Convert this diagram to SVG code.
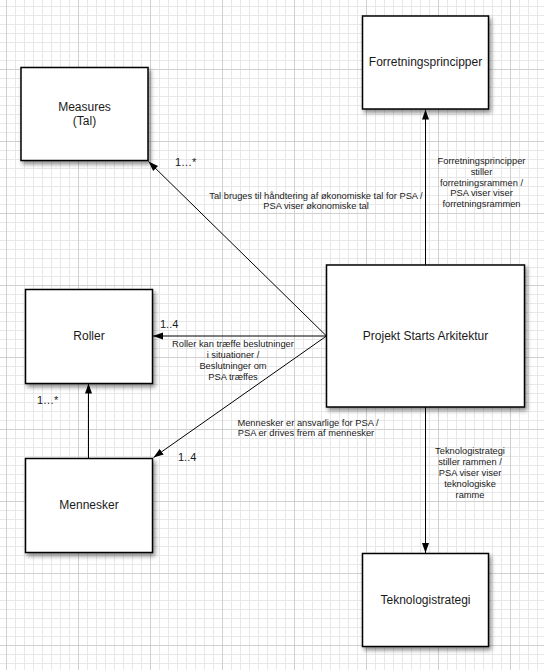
<svg xmlns="http://www.w3.org/2000/svg" width="544" height="670" viewBox="0 0 544 670">
<defs>
<pattern id="grid" x="6" y="-3" width="72" height="72" patternUnits="userSpaceOnUse">
<path d="M9.5 0V72M18.5 0V72M27.5 0V72M36.5 0V72M45.5 0V72M54.5 0V72M63.5 0V72M0 9.5H72M0 18.5H72M0 27.5H72M0 36.5H72M0 45.5H72M0 54.5H72M0 63.5H72" stroke="#e8e8e8" stroke-width="1" fill="none"/>
<path d="M0.5 0V72M0 0.5H72" stroke="#d0d0d0" stroke-width="1" fill="none"/>
</pattern>
<filter id="sh" x="-10%" y="-10%" width="130%" height="130%">
<feDropShadow dx="2" dy="3" stdDeviation="2" flood-color="#000" flood-opacity="0.45"/>
</filter>
<marker id="arr" markerWidth="10" markerHeight="8" refX="10" refY="4" orient="auto" markerUnits="userSpaceOnUse">
<path d="M0,0.5 L10,4 L0,7.5 z" fill="#000"/>
</marker>
<style>
.box{fill:#fff;stroke:#000;stroke-width:1.5;filter:url(#sh)}
.t{font-family:"Liberation Sans",Arial,sans-serif;font-size:12px;fill:#1a1a1a;text-anchor:middle}
.l{font-family:"Liberation Sans",Arial,sans-serif;font-size:9.3px;fill:#1a1a1a;text-anchor:middle}
.m{font-family:"Liberation Sans",Arial,sans-serif;font-size:11px;fill:#1a1a1a}
.c{stroke:#000;stroke-width:1;fill:none;marker-end:url(#arr)}
</style>
</defs>
<rect width="544" height="670" fill="#fff"/>
<rect width="544" height="670" fill="url(#grid)"/>

<g id="connectors">
<line class="c" x1="326.5" y1="336" x2="148.5" y2="161.5"/>
<line class="c" x1="326.5" y1="336" x2="153" y2="336"/>
<line class="c" x1="326.5" y1="336" x2="153.5" y2="457.5"/>
<line class="c" x1="88.5" y1="458" x2="88.5" y2="383.5"/>
<line class="c" x1="425.5" y1="265" x2="425.5" y2="109.5"/>
<line class="c" x1="425.5" y1="407" x2="425.5" y2="553"/>
<text class="m" x="175" y="166">1…*</text>
<text class="l" x="316" y="198.5">Tal bruges til håndtering af økonomiske tal for PSA /</text>
<text class="l" x="316" y="209">PSA viser økonomiske tal</text>
<text class="m" x="160" y="327.5">1..4</text>
<text class="l" x="233" y="347.2">Roller kan træffe beslutninger</text>
<text class="l" x="233" y="358">i situationer /</text>
<text class="l" x="233" y="369">Beslutninger om</text>
<text class="l" x="233" y="379.8">PSA træffes</text>
<text class="m" x="37" y="403.5">1…*</text>
<text class="m" x="178" y="461">1..4</text>
<text class="l" x="308" y="425.8">Mennesker er ansvarlige for PSA /</text>
<text class="l" x="306" y="436.2">PSA er drives frem af mennesker</text>
<text class="l" x="481.5" y="164">Forretningsprincipper</text>
<text class="l" x="481.5" y="174.8">stiller</text>
<text class="l" x="481.5" y="185.6">forretningsrammen /</text>
<text class="l" x="481.5" y="196.4">PSA viser viser</text>
<text class="l" x="481.5" y="207.2">forretningsrammen</text>
<text class="l" x="470" y="454">Teknologistrategi</text>
<text class="l" x="470" y="465">stiller rammen /</text>
<text class="l" x="470" y="476">PSA viser viser</text>
<text class="l" x="470" y="487">teknologiske</text>
<text class="l" x="470" y="498">ramme</text>
</g>

<g id="measures">
<rect class="box" x="21" y="67.5" width="127" height="93"/>
<text class="t" x="84.5" y="111.3">Measures</text>
<text class="t" x="84.5" y="125.3">(Tal)</text>
</g>
<g id="roller">
<rect class="box" x="25.5" y="289.5" width="127" height="94"/>
<text class="t" x="89" y="340">Roller</text>
</g>
<g id="mennesker">
<rect class="box" x="25.5" y="458.5" width="127" height="94"/>
<text class="t" x="89" y="509">Mennesker</text>
</g>
<g id="projekt">
<rect class="box" x="326.5" y="265" width="198" height="142"/>
<text class="t" x="425.5" y="340">Projekt Starts Arkitektur</text>
</g>
<g id="forretningsprincipper">
<rect class="box" x="362.5" y="16" width="126" height="93"/>
<text class="t" x="425.5" y="66.3">Forretningsprincipper</text>
</g>
<g id="teknologistrategi">
<rect class="box" x="362.5" y="553.5" width="126" height="93"/>
<text class="t" x="425.5" y="604.3">Teknologistrategi</text>
</g>
</svg>
